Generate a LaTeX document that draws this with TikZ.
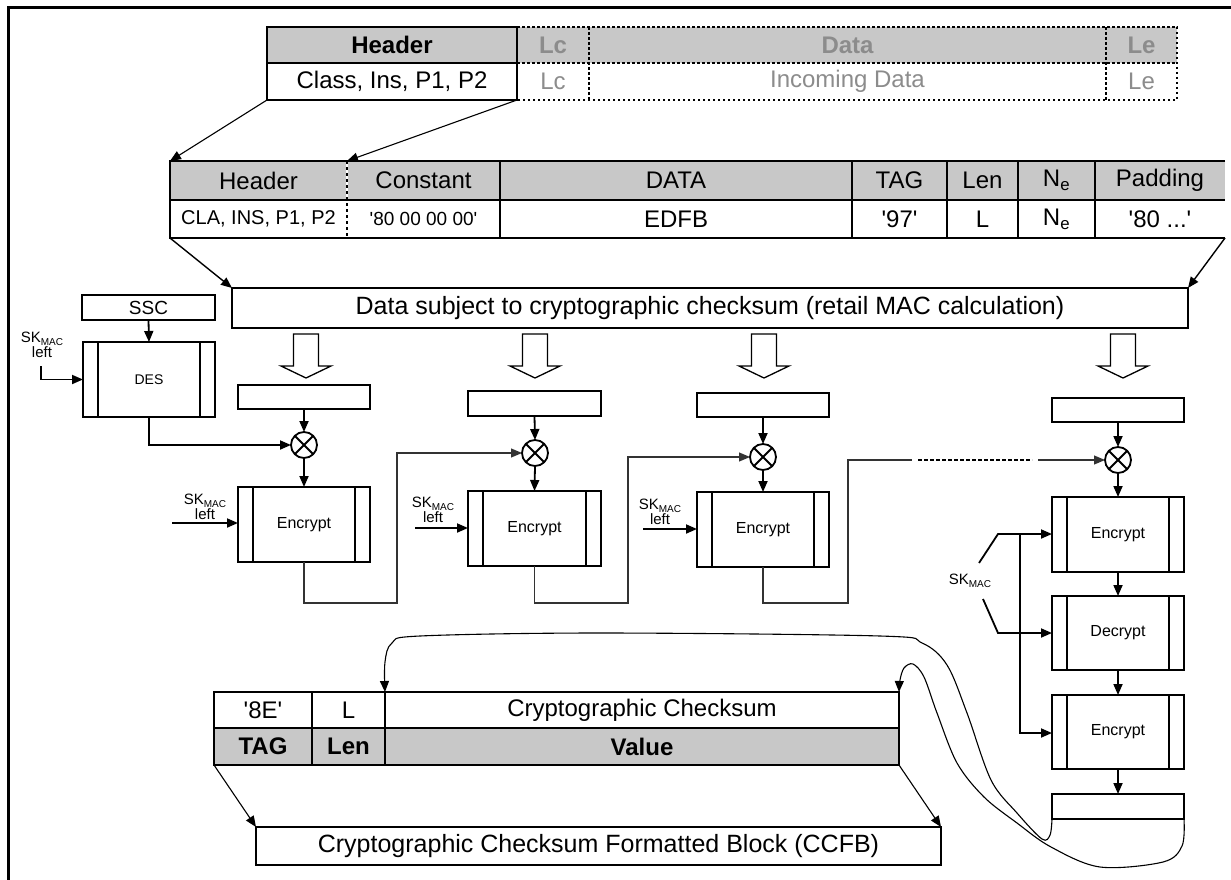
\documentclass[tikz,border=0pt]{standalone}
\usepackage{fontspec}
\setmainfont{Liberation Sans}
\usetikzlibrary{arrows.meta}
\definecolor{cellgray}{RGB}{200,200,200}
\definecolor{txtgray}{RGB}{140,140,140}
\newcommand\sq{\textquotesingle}
\newcommand\fs[1]{\fontsize{#1}{#1}\selectfont}
% cell helper: name, style, x1, y1, x2, y2, text (coordinates in px, y downwards)
\newcommand\cellat[7]{\node[#2, minimum width={#5-#3}, minimum height={#6-#4}] (#1) at ({(#3+#5)/2},{(#4+#6)/2}) {#7};}
\newcommand\mackey{SK\raisebox{-0.35ex}{\fs{10}MAC}}
% hollow block arrow pointing down, centred on x
\newcommand\hollowdown[1]{\draw[line width=1.3pt, fill=white] ({#1-12.5},334) -- ({#1+12.5},334) -- ({#1+12.5},366) -- ({#1+25},366) -- (#1,378) -- ({#1-25},366) -- ({#1-12.5},366) -- cycle;}
% the two side bars of a cipher box
\newcommand\cipherbars[1]{\draw[line width=2pt] ([xshift=15pt]#1.north west) -- ([xshift=15pt]#1.south west) ([xshift=-15pt]#1.north east) -- ([xshift=-15pt]#1.south east);}
\begin{document}
\begin{tikzpicture}[x=1pt,y=-1pt,
  box/.style={draw, line width=2pt, fill=white, inner sep=0pt, outer sep=0pt},
  cellf/.style={inner sep=0pt, outer sep=0pt, fill=cellgray},
  cellw/.style={inner sep=0pt, outer sep=0pt},
  tip/.style={-{Triangle[length=11pt,width=9pt]}},
  conn/.style={line width=1.8pt, tip},
  thinconn/.style={line width=1.1pt, tip},
  feed/.style={line width=1.1pt, draw=black!80},
  curv/.style={line width=1.1pt},
  cipher/.style={box, font=\fs{16}},
  key/.style={align=center, font=\fs{15}, inner sep=0pt},
  xorc/.style={circle, draw, line width=1.8pt, minimum size=26pt, inner sep=0pt, outer sep=0pt, fill=white,
    path picture={\draw[line width=1.8pt] (path picture bounding box.north west) -- (path picture bounding box.south east)
      (path picture bounding box.north east) -- (path picture bounding box.south west);}},
  f24/.style={font=\fs{24}},
]
\useasboundingbox (0,0) rectangle (1231,880);
\fill[white] (0,0) rectangle (1231,880);
% outer frame
\draw[line width=3pt] (8,880) -- (8,8) -- (1231,8);

% ---- command APDU ----
\cellat{hdA}{cellf,f24}{267}{27}{517}{63}{\bfseries Header}
\cellat{hdB}{cellw,f24}{267}{63}{517}{100}{Class, Ins, P1, P2}
\cellat{lcA}{cellf,f24}{517}{27}{589}{63}{\color{txtgray}\bfseries Lc}
\cellat{lcB}{cellw,f24}{517}{63}{589}{100}{\color{txtgray}Lc}
\cellat{daA}{cellf,f24}{589}{27}{1106}{63}{\color{txtgray}\bfseries Data}
\cellat{daB}{cellw,f24}{589}{63}{1106}{100}{\color{txtgray}Incoming Data}
\cellat{leA}{cellf,f24}{1106}{27}{1177}{63}{\color{txtgray}\bfseries Le}
\cellat{leB}{cellw,f24}{1106}{63}{1177}{100}{\color{txtgray}Le}
\draw[line width=2.5pt, dash pattern=on 2.5pt off 2.5pt] (lcA.north west) -- (leA.north east) -- (leB.south east) -- (lcB.south west);
\draw[line width=2.5pt, dash pattern=on 2.5pt off 2.5pt] (lcA.south west) -- (leA.south east);
\draw[line width=1.3pt, dash pattern=on 3pt off 2pt] (lcA.north east) -- (lcB.south east) (leA.north west) -- (leB.south west);
\draw[line width=2.5pt] (hdA.north west) rectangle (hdB.south east) (hdA.south west) -- (hdA.south east);

% ---- protected command layout ----
\cellat{ta1}{cellf,f24}{170}{161}{347}{200}{Header}
\cellat{ta2}{cellf,f24}{347}{161}{500}{200}{Constant}
\cellat{ta3}{cellf,f24}{500}{161}{852}{200}{DATA}
\cellat{ta4}{cellf,f24}{852}{161}{947}{200}{TAG}
\cellat{ta5}{cellf,f24}{947}{161}{1018}{200}{Len}
\cellat{ta6}{cellf,f24}{1018}{161}{1095}{200}{N\textsubscript{e}}
\cellat{ta7}{cellf,f24}{1095}{161}{1225}{200}{Padding}
\cellat{tb1}{cellw,font=\fs{20}}{170}{200}{347}{238}{CLA, INS, P1, P2}
\cellat{tb2}{cellw,font=\fs{19}}{347}{200}{500}{238}{\sq80 00 00 00\sq}
\cellat{tb3}{cellw,f24}{500}{200}{852}{238}{EDFB}
\cellat{tb4}{cellw,f24}{852}{200}{947}{238}{\sq97\sq}
\cellat{tb5}{cellw,f24}{947}{200}{1018}{238}{L}
\cellat{tb6}{cellw,f24}{1018}{200}{1095}{238}{N\textsubscript{e}}
\cellat{tb7}{cellw,f24}{1095}{200}{1225}{238}{\sq80 ...\sq}
\draw[line width=2pt] (ta7.north east) -- (ta1.north west) -- (tb1.south west) -- (tb7.south east);
\draw[line width=2pt] (ta1.south west) -- (ta7.south east);
\draw[line width=2pt] (ta3.north west) -- (tb3.south west) (ta4.north west) -- (tb4.south west)
  (ta5.north west) -- (tb5.south west) (ta6.north west) -- (tb6.south west) (ta7.north west) -- (tb7.south west);
\draw[white, line width=1.3pt] (ta2.north west) -- (ta2.south west);
\draw[line width=1.3pt, dash pattern=on 3pt off 3pt] (ta2.north west) -- (tb2.south west);

\draw[thinconn] (hdB.south west) -- (ta1.north west);
\draw[thinconn] (hdB.south east) -- (ta2.north west);

% ---- MAC input ----
\cellat{mac}{box, font=\fs{25}}{232}{288}{1188}{328}{Data subject to cryptographic checksum (retail MAC calculation)}
\draw[thinconn, line width=1.4pt] (tb1.south west) -- (mac.north west);
\draw[thinconn, line width=1.4pt] (tb7.south east) -- (mac.north east);

\hollowdown{306}
\hollowdown{535}
\hollowdown{764}
\hollowdown{1123}

% ---- initial block from SSC ----
\cellat{ssc}{box, font=\fs{19}}{82}{295}{215}{320}{SSC}
\cellat{des}{box, font=\fs{14}}{83}{342}{215}{417}{DES}
\cipherbars{des}
\node[key] (kdes) at (42,345) {\mackey\\left};
\coordinate (k0) at (41,366);
\draw[conn] (ssc.south) -- (des.north);
\draw[conn] (k0) |- (des.west);

% ---- chained blocks ----
\cellat{in1}{box}{238}{385}{370}{409}{}
\cellat{in2}{box}{468}{391}{601}{416}{}
\cellat{in3}{box}{697}{393}{829}{417}{}
\cellat{in4}{box}{1052}{398}{1184}{422}{}
\node[xorc] (c1) at (304,445) {};
\node[xorc] (c2) at (535,453) {};
\node[xorc] (c3) at (763,457) {};
\node[xorc] (c4) at (1118,460) {};
\cellat{e1}{cipher}{238}{487}{370}{562}{Encrypt}
\cellat{e2}{cipher}{468}{491}{601}{566}{Encrypt}
\cellat{e3}{cipher}{697}{492}{829}{567}{Encrypt}
\cipherbars{e1}\cipherbars{e2}\cipherbars{e3}

\draw[conn] (des.south) |- (c1.west);
\foreach \i in {1,2,3,4} {\draw[conn] (in\i.south) -- (c\i.north);}
\foreach \i in {1,2,3} {\draw[conn] (c\i.south) -- (e\i.north);}

\node[key] (k1) at (205,507) {\mackey\\left};
\node[key] (k2) at (433,510) {\mackey\\left};
\node[key] (k3) at (660,512) {\mackey\\left};
\coordinate (ka) at (172,523);
\coordinate (kb) at (415,528);
\coordinate (kc) at (643,529);
\draw[conn] (ka) -- (ka -| e1.west);
\draw[conn] (kb) -- (kb -| e2.west);
\draw[conn] (kc) -- (kc -| e3.west);

% feedback of each result into the next XOR
\coordinate (r1) at (397,603);
\coordinate (r2) at (628,603);
\coordinate (r3) at (848,603);
\coordinate (d1) at (912,460);
\coordinate (d2) at (918,460);
\coordinate (d3) at (1032,460);
\coordinate (d4) at (1038,460);
\draw[feed, tip] (e1.south) |- (r1) |- (c2.west);
\draw[feed, tip] (e2.south) |- (r2) |- (c3.west);
\draw[feed] (e3.south) |- (r3) |- (d1);
\draw[line width=1.4pt, dash pattern=on 4pt off 2pt] (d2) -- (d3);
\draw[feed, tip] (d4) -- (c4.west);

% ---- final triple-DES block ----
\cellat{e4}{cipher}{1052}{497}{1184}{572}{Encrypt}
\cellat{dec}{cipher}{1052}{596}{1184}{670}{Decrypt}
\cellat{e5}{cipher}{1052}{695}{1184}{769}{Encrypt}
\cellat{outb}{box}{1052}{794}{1184}{819}{}
\cipherbars{e4}\cipherbars{dec}\cipherbars{e5}
\draw[conn] (c4.south) -- (e4.north);
\draw[conn] (e4.south) -- (dec.north);
\draw[conn] (dec.south) -- (e5.north);
\draw[conn] (e5.south) -- (outb.north);

\node[key] (kr) at (970,581) {\mackey};
\coordinate (s1) at (979,563);
\coordinate (s2) at (998,534);
\coordinate (s3) at (983,599);
\coordinate (s4) at (998,633);
\coordinate (v1) at (1020,534);
\coordinate (v2) at (1020,733);
\draw[conn] (s1) -- (s2) -- (s2 -| e4.west);
\draw[conn] (s3) -- (s4) -- (s4 -| dec.west);
\draw[conn] (v1) -- (v2) -- (v2 -| e5.west);

% ---- cryptographic checksum data object ----
\cellat{b1}{cellw,f24}{214}{692}{312}{728}{\sq8E\sq}
\cellat{b2}{cellw,f24}{312}{692}{385}{728}{L}
\cellat{b3}{cellw,f24}{385}{692}{899}{728}{Cryptographic Checksum}
\cellat{b4}{cellf,f24}{214}{728}{312}{765}{\bfseries TAG}
\cellat{b5}{cellf,f24}{312}{728}{385}{765}{\bfseries Len}
\cellat{b6}{cellf,f24}{385}{728}{899}{765}{\bfseries Value}
\draw[line width=2.5pt] (b1.north west) rectangle (b6.south east) (b1.south west) -- (b3.south east)
  (b2.north west) -- (b5.south west) (b3.north west) -- (b6.south west);

\cellat{ccfb}{box, font=\fs{25}}{256}{827}{941}{865}{Cryptographic Checksum Formatted Block (CCFB)}
\draw[thinconn] (b4.south west) -- (ccfb.north west);
\draw[thinconn] (b6.south east) -- (ccfb.north east);

% result of the MAC computation carried to the data object
\draw[curv, tip] plot[smooth, tension=0.55] coordinates {(outb.south west) (1050,835) (1042,839) (1017,813) (991,780) (967,713) (947,665) (922,643) (880,636) (600,633) (420,636) (392,643) (385,662) (b3.north west)};
\draw[curv, tip] plot[smooth, tension=0.55] coordinates {(outb.south east) (1182,846) (1163,862) (1100,867) (1051,847) (1017,823) (984,797) (957,763) (937,713) (924,677) (913,664) (904,668) (900,680) (b3.north east)};
\end{tikzpicture}
\end{document}
